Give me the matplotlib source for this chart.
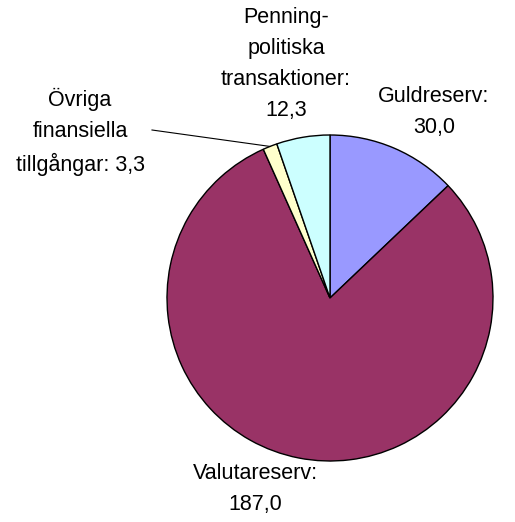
import numpy as np
import matplotlib
matplotlib.use("Agg")
import matplotlib.pyplot as plt

categories = ["Guldreserv", "Valutareserv", "Övriga finansiella tillgångar", "Penningpolitiska transaktioner"]
values = [30.0, 187.0, 3.3, 12.3]
label_texts = ["Guldreserv:\n30,0", "Valutareserv:\n187,0",
               "Övriga\nfinansiella\ntillgångar: 3,3",
               "Penning-\npolitiska\ntransaktioner:\n12,3"]
colors = ["#9999FF", "#993366", "#FFFFCC", "#CCFFFF"]

plt.rcParams['font.family'] = ['Liberation Sans', 'DejaVu Sans']

W, H = 515, 522
fig = plt.figure(figsize=(W / 100, H / 100), dpi=100)
ax = fig.add_axes([0, 0, 1, 1])

cx, cy, r = 330, H - 298, 163
wedges, _ = ax.pie(values, colors=colors, startangle=90, counterclock=False,
                   center=(cx, cy), radius=r, frame=True,
                   wedgeprops=dict(edgecolor='black', linewidth=1.0))
ax.set_xlim(0, W)
ax.set_ylim(0, H)
ax.set_aspect('equal')
ax.axis('off')

fs = 15.5
ls = 1.62
ax.text(434, H - 112, label_texts[0], ha='center', va='center', fontsize=fs, linespacing=ls)
ax.text(255, H - 489, label_texts[1], ha='center', va='center', fontsize=fs, linespacing=ls)
ax.text(286, H - 64, label_texts[3], ha='center', va='center', fontsize=fs, linespacing=ls)
ax.text(80, H - 132, label_texts[2], ha='center', va='center', fontsize=fs, linespacing=ls)

# leader line for small slice
w = wedges[2]
mid = np.deg2rad((w.theta1 + w.theta2) / 2)
px, py = cx + r * np.cos(mid), cy + r * np.sin(mid)
ax.plot([152, px], [H - 130, py], color='black', linewidth=0.8)

fig.savefig("out.png", dpi=100)
